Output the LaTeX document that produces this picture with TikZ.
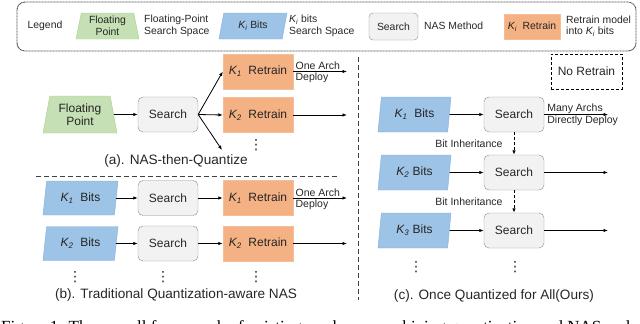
\documentclass[tikz,border=0pt]{standalone}
\usepackage{fontspec}
\setmainfont{Liberation Sans}
\newfontfamily\capfont{Liberation Serif}
\newfontfamily\dotsfont{DejaVu Sans}
\usetikzlibrary{arrows.meta,positioning,shapes.geometric}
\definecolor{fpgreen}{HTML}{C5E0B4}
\definecolor{fpgreenline}{HTML}{A9D18E}
\definecolor{bitblue}{HTML}{9DC3E6}
\definecolor{bitblueline}{HTML}{82B1DE}
\definecolor{rtorange}{HTML}{F4B183}
\definecolor{rtorangeline}{HTML}{F6BE98}
\definecolor{srchgray}{HTML}{F2F2F2}
\definecolor{srchline}{HTML}{8C8C8C}
\definecolor{txtgray}{HTML}{262626}
\newcommand{\Ksub}[1]{{\itshape K\textsubscript{#1}}}
\tikzset{
  fpnode/.style={trapezium, trapezium stretches body, draw=fpgreenline, fill=fpgreen, align=center,
    inner sep=1pt, text=txtgray, font=\fontsize{12}{13}\selectfont},
  bitnode/.style={trapezium, trapezium stretches body, draw=bitblueline, fill=bitblue, align=center,
    inner sep=1pt, text=txtgray, font=\fontsize{12}{13}\selectfont},
  searchnode/.style={draw=srchline, fill=srchgray, rounded corners=5pt, minimum width=60pt,
    minimum height=35pt, inner sep=1pt, text=txtgray, font=\fontsize{12}{13}\selectfont},
  retrainnode/.style={draw=rtorangeline, fill=rtorange, minimum width=70pt, minimum height=35pt,
    inner sep=1pt, text=txtgray, font=\fontsize{12}{13}\selectfont},
  lgdtext/.style={align=left, inner sep=1pt, text=txtgray, font=\fontsize{10.4}{11.5}\selectfont},
  smalltext/.style={inner sep=1pt, text=txtgray, font=\fontsize{10.5}{11.5}\selectfont},
  captext/.style={text=txtgray, font=\fontsize{13.6}{15}\selectfont},
  dotsnode/.style={inner sep=0pt, text=txtgray, font=\dotsfont\fontsize{14}{14}\selectfont},
  arr/.style={-{Latex[length=4.5pt,width=3.5pt]}, line width=0.8pt, black},
  dasharr/.style={-{Latex[length=4.5pt,width=3.5pt]}, line width=1pt, black, dash pattern=on 3pt off 2pt},
  sepline/.style={line width=0.8pt, black!75, dash pattern=on 5pt off 3pt},
  lgdborder/.style={line width=0.9pt, black!70, dash pattern=on 1pt off 0.5pt, rounded corners=8pt}
}

\begin{document}
\begin{tikzpicture}[x=1pt,y=-1pt]
  \useasboundingbox (0,0) rectangle (640,324);
  % legend
  \draw[lgdborder] (17,2) rectangle (636,51);
  \node[lgdtext] (lgd) at (45,26) {Legend};
  \node[fpnode, minimum width=63pt, minimum height=26pt, trapezium angle=76,
    font=\fontsize{10.4}{11.5}\selectfont] (lgfp) at (107.5,26) {Floating\\Point};
  \node[lgdtext, anchor=west] (lgfptxt) at (143,26) {Floating-Point\\Search Space};
  \node[bitnode, minimum width=68pt, minimum height=26pt, trapezium left angle=67,
    trapezium right angle=113, font=\fontsize{10.4}{11.5}\selectfont] (lgbit) at (253,26) {\Ksub{i} Bits};
  \node[lgdtext, anchor=west] (lgbittxt) at (288,26) {\Ksub{i} bits\\Search Space};
  \node[searchnode, minimum width=49pt, minimum height=27pt, rounded corners=4pt,
    font=\fontsize{10.4}{11.5}\selectfont] (lgsrch) at (393.5,26.5) {Search};
  \node[lgdtext, anchor=west] (lgsrchtxt) at (423,26) {NAS Method};
  \node[retrainnode, minimum width=56pt, minimum height=25pt,
    font=\fontsize{10.4}{11.5}\selectfont] (lgrt) at (532,26.5) {\Ksub{i}\ \ Retrain};
  \node[lgdtext, anchor=west] (lgrttxt) at (565,26) {Retrain model\\into \Ksub{i} bits};

  % (a) NAS-then-Quantize
  \node[fpnode, minimum width=74pt, minimum height=37pt, trapezium angle=74] (fpa) at (80,114.5) {Floating\\Point};
  \node[searchnode] (sa) at (168,114.5) {Search};
  \node[retrainnode] (ra1) at (258,71.5) {\Ksub{1}\ \ Retrain};
  \node[retrainnode] (ra2) at (258,115) {\Ksub{2}\ \ Retrain};
  \coordinate (ra3) at (222,150);
  \node[dotsnode] (dra) at (256,145) {⋮};
  \coordinate (oa1) at (347,71.5);
  \coordinate (oa2) at (347,115);
  \draw[arr] (fpa) -- (sa);
  \draw[arr] (sa.east) -- (ra1.west);
  \draw[arr] (sa.east) -- (ra2.west);
  \draw[arr] (sa.east) -- (ra3);
  \draw[arr] (ra1) -- (oa1)
    node[smalltext, pos=0, anchor=south west, xshift=1pt] {One Arch}
    node[smalltext, pos=0, anchor=north west, xshift=1pt] {Deploy};
  \draw[arr] (ra2) -- (oa2);
  \node[captext] (capa) at (176,161) {(a). NAS-then-Quantize};
  \draw[sepline] (36,176) -- (337,176);

  % (b) Traditional Quantization-aware NAS
  \node[bitnode, minimum width=75pt, minimum height=34pt, trapezium left angle=74,
    trapezium right angle=106] (b1) at (80.5,198) {\Ksub{1}\ \ Bits};
  \node[searchnode] (sb1) at (168,198) {Search};
  \node[retrainnode] (rb1) at (258,198) {\Ksub{1}\ \ Retrain};
  \coordinate (ob1) at (347,198);
  \node[bitnode, minimum width=75pt, minimum height=34pt, trapezium left angle=74,
    trapezium right angle=106] (b2) at (80.5,243.5) {\Ksub{2}\ \ Bits};
  \node[searchnode] (sb2) at (168,243.5) {Search};
  \node[retrainnode] (rb2) at (258,243.5) {\Ksub{2}\ \ Retrain};
  \coordinate (ob2) at (347,243.5);
  \draw[arr] (b1) -- (sb1);
  \draw[arr] (sb1) -- (rb1);
  \draw[arr] (rb1) -- (ob1)
    node[smalltext, pos=0, anchor=south west, xshift=1pt] {One Arch}
    node[smalltext, pos=0, anchor=north west, xshift=1pt] {Deploy};
  \draw[arr] (b2) -- (sb2);
  \draw[arr] (sb2) -- (rb2);
  \draw[arr] (rb2) -- (ob2);
  \node[dotsnode] (db1) at (75,277) {⋮};
  \node[dotsnode] (db2) at (163,277) {⋮};
  \node[dotsnode] (db3) at (256,277) {⋮};
  \node[captext] (capb) at (176,295) {(b). Traditional Quantization-aware NAS};

  \draw[sepline] (358,57) -- (358,300);

  % (c) Once Quantized for All
  \node[draw=black, line width=0.8pt, dash pattern=on 3pt off 2pt, minimum width=71pt,
    minimum height=35pt, text=txtgray, font=\fontsize{12}{13}\selectfont] (noretrain) at (586.5,71.5) {No Retrain};
  \foreach \r/\y/\gap in {1/114.5/\ \ , 2/172.5/\ , 3/230.5/\ } {
    \node[bitnode, minimum width=73pt, minimum height=35pt, trapezium left angle=75,
      trapezium right angle=105] (c\r) at (414.5,\y) {\Ksub{\r}\gap Bits};
    \node[searchnode] (sc\r) at (514,\y) {Search};
    \coordinate (oc\r) at (608,\y);
    \draw[arr] (c\r) -- (sc\r);
    \draw[arr] (sc\r) -- (oc\r);
  }
  \node[smalltext, anchor=south west] (manyarchs) at ([xshift=2pt]sc1.east) {Many Archs};
  \node[smalltext, anchor=north west] (directly) at ([xshift=2pt]sc1.east) {Directly Deploy};
  \draw[dasharr] (sc1) -- (sc2) node[smalltext, midway, left=10pt] {Bit Inheritance};
  \draw[dasharr] (sc2) -- (sc3) node[smalltext, midway, left=10pt] {Bit Inheritance};
  \node[dotsnode] (dc1) at (416,267) {⋮};
  \node[dotsnode] (dc2) at (515,267) {⋮};
  \node[captext] (capc) at (494,296) {(c). Once Quantized for All(Ours)};

  % figure caption, cut by the page edge
  \begin{scope}
    \clip (0,0) rectangle (640,324);
    \node[anchor=base west, inner sep=0pt, font=\capfont\fontsize{17}{18}\selectfont] (figcap) at (1,332)
      {Figure 1: The overall framework of existing works on combining quantization and NAS and};
  \end{scope}
\end{tikzpicture}
\end{document}
